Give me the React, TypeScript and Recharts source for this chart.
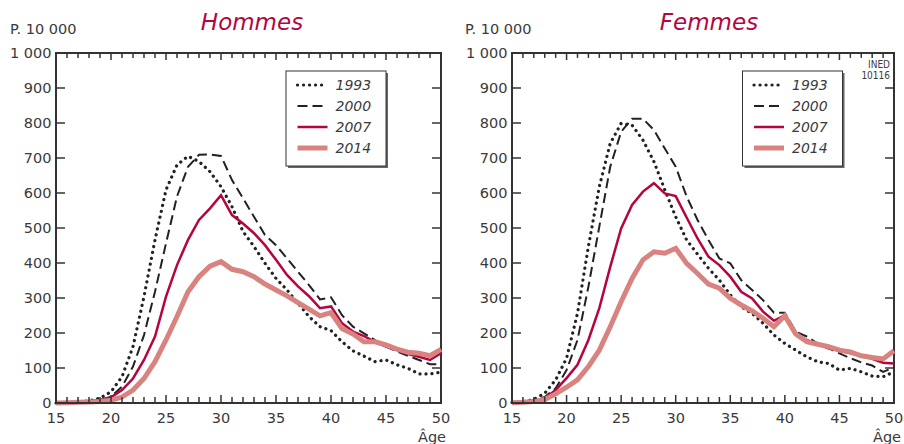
import React from 'react';
import { LineChart, Line, XAxis, YAxis, ReferenceArea, ReferenceLine } from 'recharts';

const ages = [
  15, 16, 17, 18, 19, 20, 21, 22, 23, 24, 25, 26, 27, 28, 29, 30, 31, 32,
  33, 34, 35, 36, 37, 38, 39, 40, 41, 42, 43, 44, 45, 46, 47, 48, 49, 50,
];
const yTicks = [0, 100, 200, 300, 400, 500, 600, 700, 800, 900, 1000];
const years = ['1993', '2000', '2007', '2014'];

// taux par âge, pour 10 000
const hommes1993 = [0, 1, 3, 6, 14, 32, 75, 161, 304, 466, 609, 680, 705, 690, 661, 618, 561, 490, 447, 399, 356, 323, 285, 247, 218, 207, 175, 149, 134, 118, 123, 109, 99, 83, 83, 88];
const hommes2000 = [0, 1, 2, 5, 9, 18, 47, 104, 194, 318, 456, 590, 675, 709, 710, 706, 637, 585, 532, 480, 451, 413, 375, 337, 296, 302, 251, 218, 199, 180, 161, 147, 135, 123, 111, 111];
const hommes2007 = [0, 1, 2, 4, 8, 16, 37, 70, 123, 190, 304, 394, 466, 523, 556, 594, 537, 513, 485, 451, 409, 366, 333, 305, 271, 276, 228, 204, 191, 175, 161, 151, 140, 132, 123, 142];
const hommes2014 = [0, 1, 2, 3, 4, 8, 17, 37, 70, 118, 180, 247, 318, 361, 391, 404, 382, 375, 361, 340, 323, 306, 287, 268, 249, 258, 213, 197, 175, 175, 166, 154, 145, 142, 135, 153];

const femmes1993 = [2, 4, 10, 28, 66, 128, 256, 447, 618, 742, 799, 794, 751, 690, 609, 532, 466, 425, 385, 351, 309, 275, 256, 228, 194, 170, 151, 132, 118, 113, 94, 99, 89, 77, 75, 89];
const femmes2000 = [2, 4, 8, 17, 42, 94, 180, 332, 504, 675, 775, 812, 812, 780, 727, 675, 590, 523, 466, 413, 399, 351, 323, 294, 258, 258, 204, 190, 170, 156, 142, 128, 116, 107, 89, 102];
const femmes2007 = [2, 3, 5, 13, 37, 71, 109, 180, 271, 389, 499, 566, 604, 628, 599, 591, 530, 470, 418, 394, 361, 318, 299, 261, 235, 251, 197, 180, 168, 156, 149, 142, 135, 126, 115, 113];
const femmes2014 = [1, 2, 4, 10, 26, 45, 66, 104, 151, 218, 289, 356, 409, 432, 428, 442, 399, 370, 340, 328, 299, 280, 263, 242, 218, 249, 197, 175, 168, 161, 151, 146, 135, 130, 126, 149];

const FONT = '"DejaVu Sans", sans-serif';
const TXT = '#3a3a3a';
const FRAME = '#333';
const TICK = '#333';
const RED = '#b5053f';

const lineStyle: Record<string, any> = {
  '1993': { stroke: '#222', strokeWidth: 3.2, strokeDasharray: '0.1 5.9', strokeLinecap: 'round' },
  '2000': { stroke: '#222', strokeWidth: 2, strokeDasharray: '10 5' },
  '2007': { stroke: RED, strokeWidth: 2.5 },
  '2014': { stroke: '#d8837f', strokeWidth: 5 },
};

const buildRows = (series: number[][]) =>
  ages.map((age, i) => {
    const row: Record<string, number> = { age };
    years.forEach((y, k) => {
      row['y' + y] = series[k][i];
    });
    return row;
  });

const hommesData = buildRows([hommes1993, hommes2000, hommes2007, hommes2014]);
const femmesData = buildRows([femmes1993, femmes2000, femmes2007, femmes2014]);

const fmt = (v: number) => String(v).replace(/\B(?=(\d{3})+(?!\d))/g, ' ');

const BottomTick = (props: any) => {
  const { x, y, payload } = props;
  const major = payload.value % 5 === 0;
  return (
    <g>
      <line x1={x} x2={x} y1={y} y2={y - (major ? 8 : 6)} stroke={TICK} strokeWidth={1.5} />
      {major && (
        <text x={x} y={y + 20} textAnchor="middle" fontSize={14.5} fontFamily={FONT} fill={TXT}>
          {payload.value}
        </text>
      )}
    </g>
  );
};

const LeftTick = (props: any) => {
  const { x, y, payload } = props;
  return (
    <g>
      <line x1={x} x2={x + 9} y1={y} y2={y} stroke={TICK} strokeWidth={1.5} />
      <text x={x - 4.5} y={y + 5} textAnchor="end" fontSize={14.5} fontFamily={FONT} fill={TXT}>
        {fmt(payload.value)}
      </text>
    </g>
  );
};

// tick lengths in data units (350 px for 1000, about 11 px per year)
const TOP_MINOR = 14;
const TOP_MAJOR = 20;
const RIGHT_LEN = 0.82;

const Panel = ({ data, left, width }: { data: any[]; left: number; width: number }) => (
  <div style={{ position: 'absolute', left, top: 0 }}>
    <LineChart width={width} height={444} data={data} margin={{ top: 53, right: 9, bottom: 0, left: 0 }}>
      <XAxis
        dataKey="age"
        type="number"
        domain={[15, 50]}
        ticks={ages}
        interval={0}
        height={41}
        tickSize={0}
        tickMargin={0}
        tickLine={false}
        tick={<BottomTick />}
        axisLine={{ stroke: FRAME, strokeWidth: 2 }}
      />
      <YAxis
        type="number"
        domain={[0, 1000]}
        ticks={yTicks}
        interval={0}
        width={56}
        tickSize={0}
        tickMargin={0}
        tickLine={false}
        tick={<LeftTick />}
        axisLine={{ stroke: FRAME, strokeWidth: 2 }}
      />
      <ReferenceArea
        x1={15}
        x2={50}
        y1={0}
        y2={1000}
        fill="none"
        fillOpacity={0}
        stroke={FRAME}
        strokeWidth={2}
        strokeOpacity={1}
        ifOverflow="visible"
      />
      {ages.map((a) => (
        <ReferenceLine
          key={'t' + a}
          segment={[{ x: a, y: 1000 }, { x: a, y: 1000 - (a % 5 === 0 ? TOP_MAJOR : TOP_MINOR) }]}
          stroke={TICK}
          strokeWidth={1.5}
          strokeOpacity={1}
          ifOverflow="visible"
        />
      ))}
      {yTicks.map((v) => (
        <ReferenceLine
          key={'r' + v}
          segment={[{ x: 50 - RIGHT_LEN, y: v }, { x: 50, y: v }]}
          stroke={TICK}
          strokeWidth={1.5}
          strokeOpacity={1}
          ifOverflow="visible"
        />
      ))}
      {years.map((y) => (
        <Line
          key={y}
          dataKey={'y' + y}
          type="linear"
          dot={false}
          activeDot={false}
          isAnimationActive={false}
          {...lineStyle[y]}
        />
      ))}
    </LineChart>
  </div>
);

const LegendBox = ({ x, y }: { x: number; y: number }) => (
  <g transform={`translate(${x},${y})`}>
    <rect x={2.5} y={2.5} width={100} height={95} fill="#666" />
    <rect x={0.5} y={0.5} width={100} height={95} fill="#fff" stroke="#333" />
    {years.map((yr, i) => {
      const cy = 14.5 + i * 21;
      return (
        <g key={yr}>
          <line x1={12} x2={42} y1={cy} y2={cy} {...lineStyle[yr]} />
          <text x={50} y={cy + 5} fontSize={14} fontStyle="italic" fontFamily={FONT} fill={TXT}>
            {yr}
          </text>
        </g>
      );
    })}
  </g>
);

const Overlay = () => (
  <svg width={904} height={444} style={{ position: 'absolute', left: 0, top: 0, pointerEvents: 'none' }}>
    <text x={252} y={30} textAnchor="middle" fontSize={23} fontStyle="italic" fontFamily={FONT} fill={RED}>
      Hommes
    </text>
    <text x={709} y={30} textAnchor="middle" fontSize={23} fontStyle="italic" fontFamily={FONT} fill={RED}>
      Femmes
    </text>
    <text x={10} y={34} fontSize={14.5} fontFamily={FONT} fill={TXT}>P. 10 000</text>
    <text x={465} y={34} fontSize={14.5} fontFamily={FONT} fill={TXT}>P. 10 000</text>
    <text x={418} y={442} fontSize={14.5} fontFamily={FONT} fill={TXT}>Âge</text>
    <text x={873} y={442} fontSize={14.5} fontFamily={FONT} fill={TXT}>Âge</text>
    <text x={890} y={68} textAnchor="end" fontSize={10} fontFamily='"DejaVu Sans Condensed", sans-serif' fill={TXT}>INED</text>
    <text x={890} y={79} textAnchor="end" fontSize={10} fontFamily='"DejaVu Sans Condensed", sans-serif' fill={TXT}>10116</text>
    <LegendBox x={285.5} y={70.5} />
    <LegendBox x={742} y={70.5} />
  </svg>
);

export default function App() {
  return (
    <div style={{ position: 'absolute', left: 0, top: 0, width: 904, height: 444, background: '#fff', fontFamily: FONT }}>
      <Panel data={hommesData} left={0} width={450} />
      <Panel data={femmesData} left={456} width={447} />
      <Overlay />
    </div>
  );
}
